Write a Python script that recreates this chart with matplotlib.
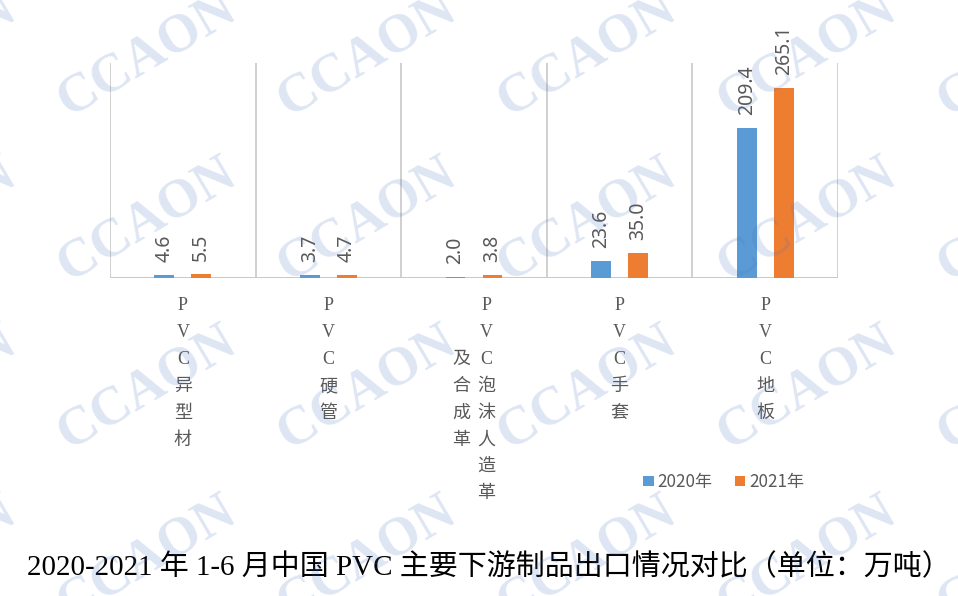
import matplotlib
matplotlib.use("Agg")
import matplotlib.pyplot as plt
import numpy as np

# ---- data ----
categories = ["PVC异型材", "PVC硬管", "PVC泡沫人造革及合成革", "PVC手套", "PVC地板"]
series_names = ["2020年", "2021年"]
values_2020 = [4.6, 3.7, 2.0, 23.6, 209.4]
values_2021 = [5.5, 4.7, 3.8, 35.0, 265.1]
title = "2020-2021 年 1-6 月中国 PVC 主要下游制品出口情况对比（单位：万吨）"
watermark = "CCAON"

# ---- style ----
W, H, DPI = 958, 596, 100
colors = ["#5b9bd5", "#ed7d31"]
gray = "#595959"
grid_gray = "#c8c8c8"
cat_family = ["Liberation Serif", "Noto Sans CJK SC"]
lab_family = ["Noto Sans", "Noto Sans CJK SC"]

fig = plt.figure(figsize=(W / DPI, H / DPI), dpi=DPI)
fig.patch.set_facecolor("white")

def px(x, y):
    return x / W, 1 - y / H

l, t = px(110, 63)
r, b = px(838, 278)
ax = fig.add_axes([l, b, r - l, t - b])
ax.set_xlim(-0.5, len(categories) - 0.5)
ax.set_ylim(0, 300)
for s in ax.spines.values():
    s.set_visible(False)
ax.set_xticks([])
ax.set_yticks([])
ax.patch.set_alpha(0)

# category boundary lines
for xb in np.arange(len(categories) + 1) - 0.5:
    ax.axvline(xb, color=grid_gray, lw=1.2, zorder=1)
ax.axhline(0, color=grid_gray, lw=1.4, zorder=1)

x = np.arange(len(categories))
bw = 0.137
off = 0.127
for i, (vals, c, name) in enumerate(zip([values_2020, values_2021], colors, series_names)):
    xs = x + (-off if i == 0 else off)
    ax.bar(xs, vals, width=bw, color=c, label=name, zorder=2)
    for xi, v in zip(xs, vals):
        ax.annotate(f"{v:.1f}", xy=(xi, v), xytext=(0, 13), textcoords="offset pixels",
                    rotation=90, ha="center", va="bottom", color=gray,
                    fontsize=14, family=lab_family, zorder=3)

# vertical stacked category labels
max_rows = 8
row_h = 26.8
col_w = 25
first_row_y = 306  # pixel center of first row
for xi, cat in zip(x, categories):
    cols = [cat[k:k + max_rows] for k in range(0, len(cat), max_rows)]
    n = len(cols)
    longest = max(len(c) for c in cols)
    xc_data = ax.transData.transform((xi, 0))[0]
    for ci, col in enumerate(cols):
        # first column is rightmost
        dx = ((n - 1) / 2 - ci) * col_w
        start = (longest - len(col)) / 2
        for ri, ch in enumerate(col):
            ypix = first_row_y + (start + ri) * row_h
            fig.text((xc_data + dx) / W, 1 - ypix / H, ch, ha="center", va="center",
                     color=gray, fontsize=13, family=cat_family)

# legend
handles, labels = ax.get_legend_handles_labels()
leg = fig.legend(handles, labels, loc="center", bbox_to_anchor=px(724, 482),
                 ncol=2, frameon=False, handlelength=0.6,
                 handleheight=0.6, handletextpad=0.25, columnspacing=1.3,
                 prop={"family": ["Noto Sans CJK SC"], "size": 12.3})
for txt in leg.get_texts():
    txt.set_color(gray)

# title
fig.text(*px(489, 567), title, ha="center", va="center", color="black",
         fontsize=20.9, family=["Liberation Serif", "Noto Sans CJK SC"])

# watermark tiles
wm_x = [-73, 147, 367, 587, 807, 1027]
wm_y = [55, 220, 388, 558]
for yy in wm_y:
    for xx in wm_x:
        fig.text(*px(xx, yy), watermark, ha="center", va="center",
                 rotation=30.5, rotation_mode="anchor", fontsize=39,
                 fontweight="bold", family="Liberation Serif",
                 color="#4472c4", alpha=0.18, zorder=10)

fig.savefig("out.png", dpi=DPI)
